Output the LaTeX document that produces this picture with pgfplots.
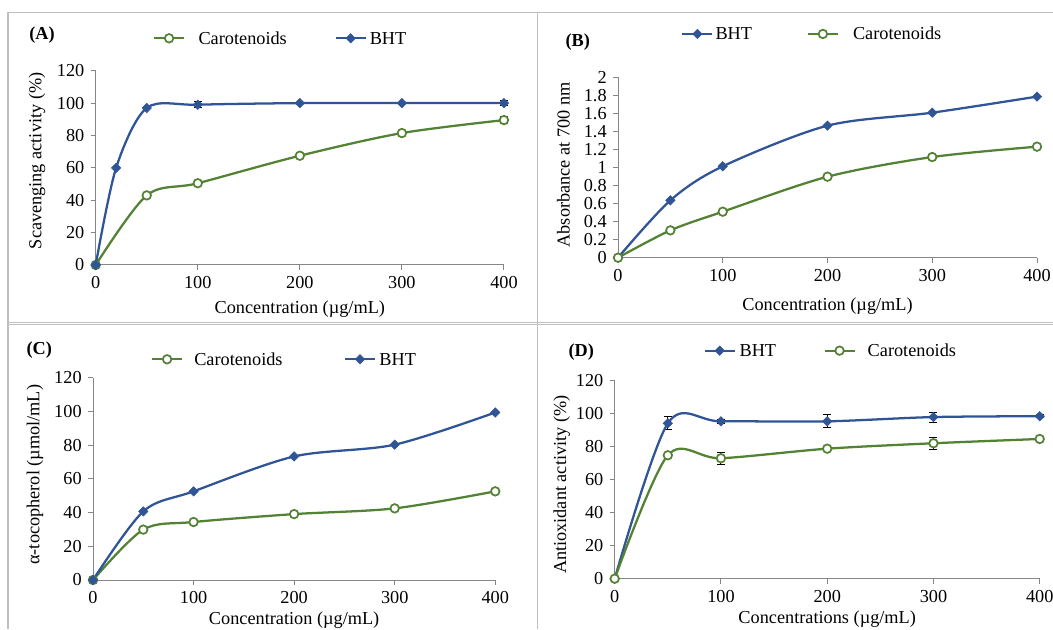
\documentclass[border=0pt]{standalone}
\usepackage{fontspec}
\setmainfont{Liberation Serif}
\usepackage{pgfplots}
\pgfplotsset{compat=1.18}

\definecolor{bhtblue}{RGB}{47,85,151}
\definecolor{carogreen}{RGB}{84,130,53}
\definecolor{axisgray}{RGB}{134,134,134}
\definecolor{framegray}{RGB}{191,191,191}

% 1 unit = 1 px of the reference (0.75pt)
\pgfplotsset{
  panel/.style={
    scale only axis,
    anchor=south west,
    axis x line*=bottom, axis y line*=left,
    axis line style={axisgray, line width=0.75pt},
    tick style={axisgray, line width=0.75pt},
    tick align=outside, major tick length=3.75pt,
    xmin=0, xmax=400, xtick={0,100,...,400},
    ymin=0, clip=false,
    /pgf/number format/assume math mode=true,
    legend columns=2,
    legend style={draw=none, fill=none, inner sep=0pt, column sep=0pt,
      nodes={inner sep=0pt, anchor=base west}, anchor=west},
    legend image code/.code={
      \draw[##1, mark repeat=2, mark phase=2]
        plot coordinates {(0pt,4.5pt) (11.25pt,4.5pt) (22.5pt,4.5pt)};
    },
  },
  bht/.style={color=bhtblue, line width=1.7pt, smooth, tension=0.5,
    mark=square*, mark size=2.5pt,
    mark options={solid, rotate=45, fill=bhtblue, line width=0.4pt}},
  caro/.style={color=carogreen, line width=1.7pt, smooth, tension=0.5,
    mark=*, mark size=3.2pt,
    mark options={solid, fill=white, line width=1.3pt}},
  errs/.style={forget plot, only marks, mark=none,
    error bars/.cd, y dir=both, y explicit,
    error bar style={draw=black, line width=0.7pt},
    error mark options={rotate=90, mark size=3pt, black, line width=0.7pt}},
}

\begin{document}
\fontsize{13.7}{16}\selectfont
\begin{tikzpicture}[x=0.75pt, y=0.75pt]
\path[use as bounding box] (0,0) rectangle (1053,629);
\begin{scope}
\clip (0,0) rectangle (1053,629);

% panel frames
\draw[framegray, line width=0.9pt] (8,0) -- (8,616.3) -- (1053,616.3);
\draw[framegray, line width=0.9pt] (537.7,0) -- (537.7,616.3);
\draw[framegray, line width=0.9pt] (8,306.8) -- (1053,306.8);
\draw[framegray, line width=0.9pt] (8,304.3) -- (1053,304.3);

% (A) scavenging activity
\begin{axis}[panel, at={(71.775pt,273pt)}, width=306.2pt, height=145.7pt,
  ymax=120, ytick={0,20,...,120},
  xlabel={Concentration (µg/mL)}, ylabel={Scavenging activity (\%)},
  xlabel style={at={(axis description cs:0.5,-0.228)}, anchor=center},
  ylabel style={at={(axis description cs:-0.1438,0.536)}, anchor=center},
  legend style={at={(axis description cs:0.1396,1.1616)}}]
\addplot[errs] coordinates {(100,99) +- (0,2) (400,100) +- (0,1.5)};
\addplot[errs] coordinates {(400,89.5) +- (0,2)};
\addplot[caro] coordinates {(0,0) (50,43) (100,50.5) (200,67.5) (300,81.5) (400,89.5)};
\addplot[bht] coordinates {(0,0) (20,60) (50,97) (100,99) (200,100) (300,100) (400,100)};
\legend{\hspace{10pt}Carotenoids\hspace{35.8pt}\null, \hspace{2.2pt}BHT}
\end{axis}

% (B) reducing power
\begin{axis}[panel, at={(463.5pt,278.475pt)}, width=314.25pt, height=135.3pt,
  ymax=2, ytick={0,0.2,0.4,0.6,0.8,1,1.2,1.4,1.6,1.8,2},
  xlabel={Concentration (µg/mL)}, ylabel={Absorbance at 700 nm},
  xlabel style={at={(axis description cs:0.5,-0.2677)}, anchor=center},
  ylabel style={at={(axis description cs:-0.1305,0.514)}, anchor=center},
  legend style={at={(axis description cs:0.1504,1.2345)}}]
\addplot[bht] coordinates {(0,0) (50,0.636) (100,1.013) (200,1.464) (300,1.608) (400,1.786)};
\addplot[caro] coordinates {(0,0) (50,0.303) (100,0.51) (200,0.898) (300,1.116) (400,1.231)};
\legend{\hspace{1.5pt}BHT\hspace{41pt}\null, \hspace{10.5pt}Carotenoids}
\end{axis}

% (C) alpha-tocopherol equivalents
\begin{axis}[panel, at={(69.75pt,36.75pt)}, width=301.7pt, height=151.7pt,
  ymax=120, ytick={0,20,...,120},
  xlabel={Concentration (µg/mL)}, ylabel={α-tocopherol (µmol/mL)},
  xlabel style={at={(axis description cs:0.5,-0.196)}, anchor=center},
  ylabel style={at={(axis description cs:-0.1442,0.5205)}, anchor=center},
  legend style={at={(axis description cs:0.1434,1.086)}}]
\addplot[caro] coordinates {(0,0) (50,29.9) (100,34.4) (200,39.1) (300,42.5) (400,52.6)};
\addplot[bht] coordinates {(0,0) (50,40.7) (100,52.6) (200,73.3) (300,80.3) (400,99.4)};
\legend{\hspace{8.3pt}Carotenoids\hspace{46pt}\null, \hspace{2.5pt}BHT}
\end{axis}

% (D) antioxidant activity
\begin{axis}[panel, at={(461.025pt,37.725pt)}, width=318.75pt, height=148.3pt,
  ymax=120, ytick={0,20,...,120},
  xlabel={Concentrations (µg/mL)}, ylabel={Antioxidant activity (\%)},
  xlabel style={at={(axis description cs:0.5,-0.207)}, anchor=center},
  ylabel style={at={(axis description cs:-0.1247,0.4755)}, anchor=center},
  legend style={at={(axis description cs:0.2085,1.148)}}]
\addplot[errs] coordinates {(50,94.3) +- (0,4) (100,95.5) +- (0,1.2) (200,95.5) +- (0,4)
  (300,98.1) +- (0,3) (400,98.6) +- (0,1)};
\addplot[errs] coordinates {(50,74.9) +- (0,1) (100,73.1) +- (0,3.5) (200,78.9) +- (0,1)
  (300,82.2) +- (0,3.5) (400,84.8) +- (0,1)};
\addplot[bht] coordinates {(0,0) (50,94.3) (100,95.5) (200,95.5) (300,98.1) (400,98.6)};
\addplot[caro] coordinates {(0,0) (50,74.9) (100,73.1) (200,78.9) (300,82.2) (400,84.8)};
\legend{\hspace{2.8pt}BHT\hspace{35.5pt}\null, \hspace{9pt}Carotenoids}
\end{axis}

% panel letters
\node[font=\bfseries] at (42,594) {(A)};
\node[font=\bfseries] at (577.8,586.7) {(B)};
\node[font=\bfseries] at (39.2,279.3) {(C)};
\node[font=\bfseries] at (581.2,276.7) {(D)};
\end{scope}
\end{tikzpicture}
\end{document}
